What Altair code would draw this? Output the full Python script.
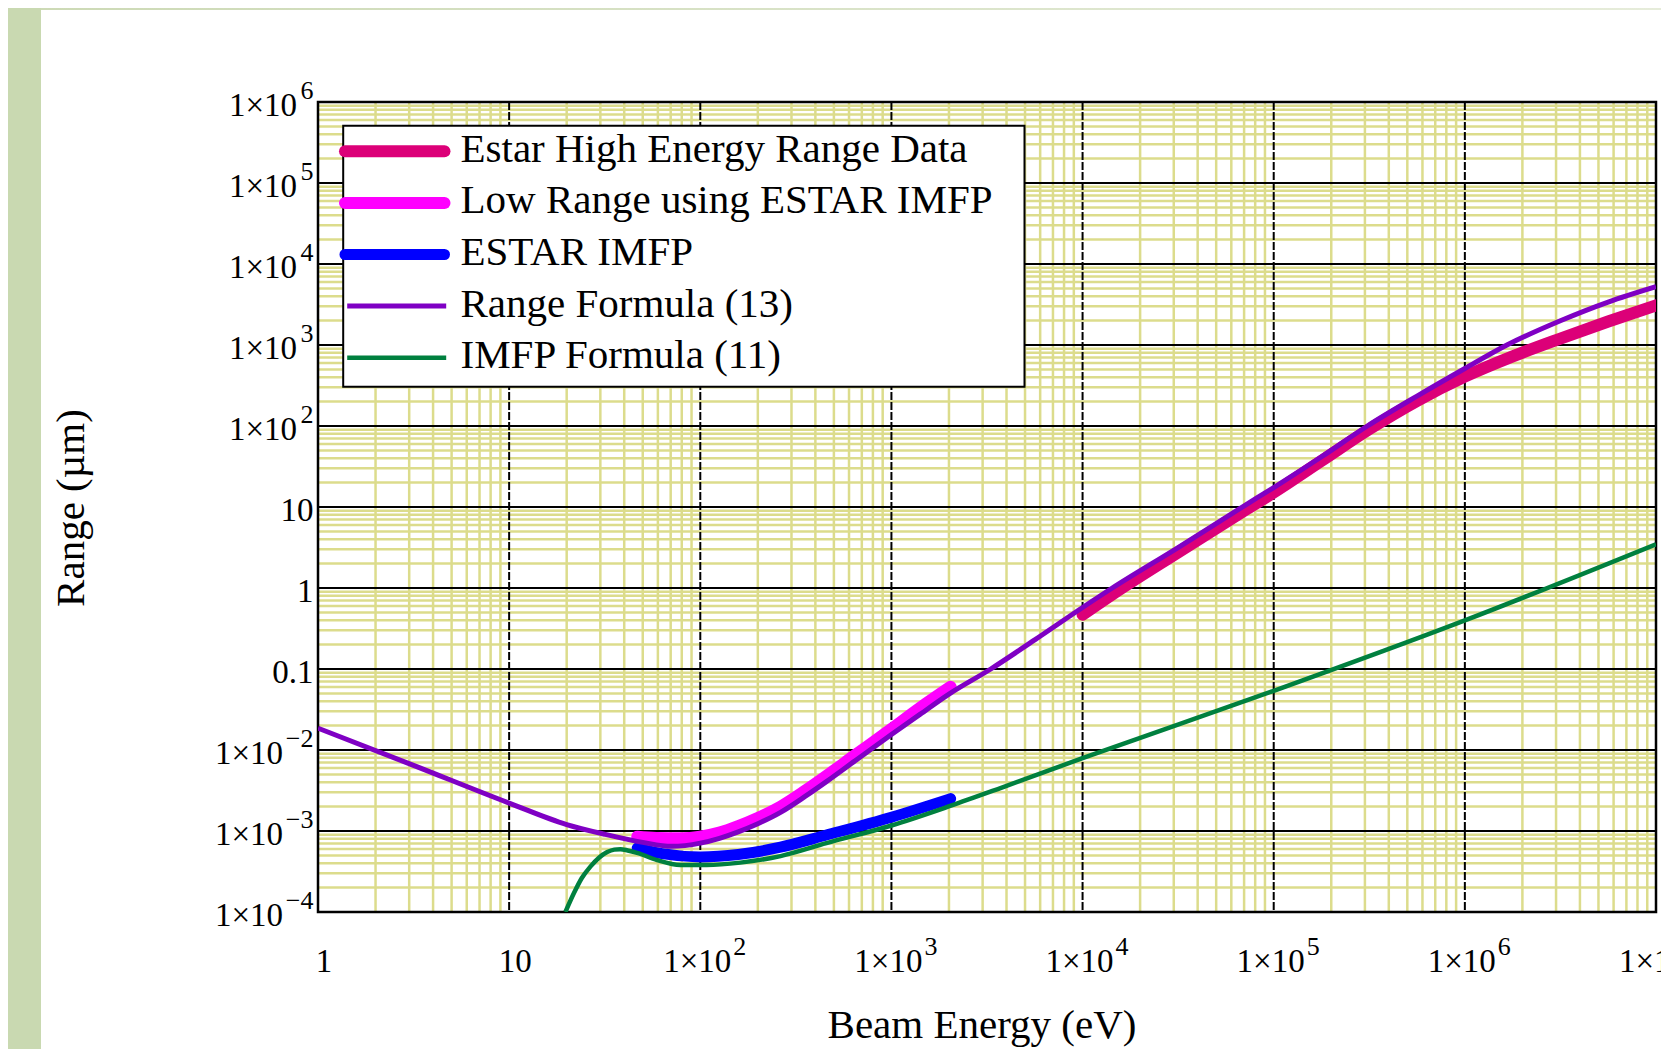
import altair as alt
import pandas as pd

# ---------------- data ----------------
x_decades = [1, 10, 100, 1e3, 1e4, 1e5, 1e6, 1e7]
x_tick_base = ["1", "10", "1×10", "1×10", "1×10", "1×10", "1×10", "1×10"]
x_tick_exp = ["", "", "2", "3", "4", "5", "6", "7"]

y_decades = [1e-4, 1e-3, 1e-2, 0.1, 1, 10, 1e2, 1e3, 1e4, 1e5, 1e6]
y_tick_base = ["1×10", "1×10", "1×10", "0.1", "1", "10", "1×10", "1×10", "1×10", "1×10", "1×10"]
y_tick_exp = ["−4", "−3", "−2", "", "", "", "2", "3", "4", "5", "6"]

minor_steps = [2, 3, 4, 5, 6, 7, 8, 9]

series_names = [
    "Estar High Energy Range Data",
    "Low Range using ESTAR IMFP",
    "ESTAR IMFP",
    "Range Formula (13)",
    "IMFP Formula (11)",
]

# Estar High Energy Range Data
estar_E = [1e4, 1.43e4, 3.16e4, 7.08e4, 1e5, 1.78e5, 3.16e5, 5.62e5, 1e6, 1.78e6, 3.16e6, 5.62e6, 1e7]
estar_R = [0.468, 0.832, 2.75, 9.12, 15.1, 37.2, 91.2, 204, 407, 724, 1202, 1950, 3090]

# Low Range using ESTAR IMFP
low_E = [46.8, 58.9, 79.4, 100, 126, 158, 200, 263, 355, 457, 631, 1000, 1410, 2040]
low_R = [0.000851, 0.000822, 0.000813, 0.000851, 0.000955, 0.00115, 0.00145, 0.00200,
         0.00316, 0.00479, 0.00832, 0.0182, 0.0331, 0.0603]

# ESTAR IMFP
imfp_E = [46.8, 63.1, 100, 158, 263, 457, 1000, 2040]
imfp_R = [0.000617, 0.000525, 0.000479, 0.000513, 0.000631, 0.000891, 0.00148, 0.00251]

# Range Formula (13)
rf_E = [1, 3.16, 10, 20, 31.6, 50, 70.8, 100, 126, 158, 200, 263, 355, 457, 631, 1000, 1410,
        2000, 3310, 5620, 1e4, 1.43e4, 3.16e4, 7.08e4, 1e5, 1.78e5, 3.09e5, 5.62e5, 1e6,
        1.66e6, 3.16e6, 5.62e6, 1e7]
rf_R = [0.0186, 0.00646, 0.00221, 0.00120, 0.000912, 0.000724, 0.000646, 0.000708, 0.000813,
        0.000977, 0.00123, 0.00170, 0.00269, 0.00407, 0.00708, 0.0155, 0.0275, 0.0490, 0.1,
        0.229, 0.575, 1.0, 3.16, 10.5, 17.4, 41.7, 100, 234, 513, 1000, 1995, 3390, 5250]

# IMFP Formula (11)
if_E = [19.7, 21.8, 24.0, 26.6, 29.5, 32.6, 35.5, 38.2, 41.7, 46.7, 59.4, 78.7, 108, 162, 263,
        457, 1000, 2030, 3720, 1e4, 1e5, 1e6, 1e7]
if_R = [1.0e-4, 1.70e-4, 2.63e-4, 3.63e-4, 4.68e-4, 5.50e-4, 5.89e-4, 5.96e-4, 5.75e-4, 5.37e-4,
        4.37e-4, 3.80e-4, 3.80e-4, 4.07e-4, 4.90e-4, 7.08e-4, 1.17e-3, 2.04e-3, 3.39e-3, 7.94e-3,
        0.0537, 0.398, 3.47]

# ---------------- styles ----------------
series_colors = ["#dc0078", "#ff00ff", "#0000ff", "#7f00c4", "#00803f"]
series_widths = [12, 12, 11, 5, 4.5]
FONT = "Liberation Serif"
YEL = "#dcdc8c"
W, H = 1338, 810

xs = alt.Scale(type="log", domain=[1, 1e7], nice=False)
ys = alt.Scale(type="log", domain=[1e-4, 1e6], nice=False)

one = pd.DataFrame({"k": [0]})


def xenc(f):
    return alt.X(f + ":Q", scale=xs, axis=None)


def yenc(f):
    return alt.Y(f + ":Q", scale=ys, axis=None)


layers = []

# page decoration (green strips)
layers.append(alt.Chart(one).mark_rect(color="#c9d9b1").encode(
    x=alt.value(-310), x2=alt.value(-277), y=alt.value(-94), y2=alt.value(H + 140)))
layers.append(alt.Chart(one).mark_rect(
    color=alt.Gradient(gradient="linear",
                       stops=[alt.GradientStop(color="#cddab6", offset=0),
                              alt.GradientStop(color="#e6ecda", offset=1)],
                       x1=0, x2=1, y1=0, y2=0)).encode(
    x=alt.value(-277), x2=alt.value(W + 5), y=alt.value(-94), y2=alt.value(-92)))

# plot background
layers.append(alt.Chart(one).mark_rect(color="white").encode(
    x=alt.value(0), x2=alt.value(W), y=alt.value(0), y2=alt.value(H)))

# minor grid
x_minor = pd.DataFrame({"v": [m * d for d in x_decades[:-1] for m in minor_steps]})
y_minor = pd.DataFrame({"v": [m * d for d in y_decades[:-1] for m in minor_steps]})
layers.append(alt.Chart(x_minor).mark_rule(color=YEL, strokeWidth=2.5).encode(x=xenc("v")))
layers.append(alt.Chart(y_minor).mark_rule(color=YEL, strokeWidth=2.5).encode(y=yenc("v")))

# major grid
x_major = pd.DataFrame({"v": x_decades[1:-1]})
y_major = pd.DataFrame({"v": y_decades[1:-1]})
layers.append(alt.Chart(x_major).mark_rule(color="black", strokeWidth=2, strokeDash=[8, 2]).encode(x=xenc("v")))
layers.append(alt.Chart(y_major).mark_rule(color="black", strokeWidth=2).encode(y=yenc("v")))

# frame
layers.append(alt.Chart(one).mark_rect(filled=False, stroke="black", strokeWidth=2.5).encode(
    x=alt.value(0), x2=alt.value(W), y=alt.value(0), y2=alt.value(H)))

# curves
curve_data = [(estar_E, estar_R), (low_E, low_R), (imfp_E, imfp_R), (rf_E, rf_R), (if_E, if_R)]
for (E, R), name, col, sw in zip(curve_data, series_names, series_colors, series_widths):
    df = pd.DataFrame({"E": E, "R": R, "series": name})
    layers.append(alt.Chart(df).mark_line(
        color=col, strokeWidth=sw, clip=True, interpolate="monotone",
        strokeCap="round" if sw > 8 else "butt", strokeJoin="round").encode(
        x=xenc("E"), y=yenc("R")))

# legend
layers.append(alt.Chart(one).mark_rect(fill="white", stroke="black", strokeWidth=2).encode(
    x=alt.value(25.2), x2=alt.value(706.5), y=alt.value(23.7), y2=alt.value(284.7)))
for i, (name, col, sw) in enumerate(zip(series_names, series_colors, series_widths)):
    yy = 49.3 + i * 51.6
    thick = sw > 8
    lab = pd.DataFrame({"label": [name]})
    layers.append(alt.Chart(lab).mark_rule(
        color=col, strokeWidth=sw, strokeCap="round" if thick else "butt").encode(
        x=alt.value(27 if thick else 29.2), x2=alt.value(126.5 if thick else 128.2),
        y=alt.value(yy)))
    layers.append(alt.Chart(lab).mark_text(
        font=FONT, fontSize=41, align="left", baseline="alphabetic", color="black").encode(
        x=alt.value(142.5), y=alt.value(yy + 10.5), text="label:N"))

# x tick labels
xt = pd.DataFrame({"v": x_decades, "base": x_tick_base, "exp": x_tick_exp})
layers.append(alt.Chart(xt).transform_filter("datum.exp == ''").mark_text(
    font=FONT, fontSize=33, align="center", baseline="alphabetic", dx=6, color="black").encode(
    x=xenc("v"), y=alt.value(H + 60), text="base:N"))
layers.append(alt.Chart(xt).transform_filter("datum.exp != ''").mark_text(
    font=FONT, fontSize=33, align="right", baseline="alphabetic", dx=31, color="black").encode(
    x=xenc("v"), y=alt.value(H + 60), text="base:N"))
layers.append(alt.Chart(xt).transform_filter("datum.exp != ''").mark_text(
    font=FONT, fontSize=26, align="left", baseline="alphabetic", dx=33, color="black").encode(
    x=xenc("v"), y=alt.value(H + 43), text="exp:N"))

# y tick labels
yt = pd.DataFrame({"v": y_decades, "base": y_tick_base, "exp": y_tick_exp})
layers.append(alt.Chart(yt).transform_filter("datum.exp == ''").mark_text(
    font=FONT, fontSize=33, align="right", baseline="alphabetic", dy=13.5, color="black").encode(
    x=alt.value(-4.5), y=yenc("v"), text="base:N"))
layers.append(alt.Chart(yt).transform_filter("datum.exp != '' && indexof(datum.exp, '−') < 0").mark_text(
    font=FONT, fontSize=33, align="right", baseline="alphabetic", dy=13.5, color="black").encode(
    x=alt.value(-21), y=yenc("v"), text="base:N"))
layers.append(alt.Chart(yt).transform_filter("indexof(datum.exp, '−') >= 0").mark_text(
    font=FONT, fontSize=33, align="right", baseline="alphabetic", dy=13.5, color="black").encode(
    x=alt.value(-35), y=yenc("v"), text="base:N"))
layers.append(alt.Chart(yt).transform_filter("datum.exp != ''").mark_text(
    font=FONT, fontSize=26, align="right", baseline="alphabetic", dy=-3, color="black").encode(
    x=alt.value(-4.5), y=yenc("v"), text="exp:N"))

# axis titles
titles = pd.DataFrame({"t": ["Beam Energy (eV)"]})
layers.append(alt.Chart(titles).mark_text(
    font=FONT, fontSize=41, align="center", baseline="alphabetic", color="black").encode(
    x=alt.value(W / 2 - 5), y=alt.value(H + 126), text="t:N"))
ytitle = pd.DataFrame({"t": ["Range (µm)"]})
layers.append(alt.Chart(ytitle).mark_text(
    font=FONT, fontSize=41, align="center", baseline="middle", angle=270, color="black").encode(
    x=alt.value(-246), y=alt.value(H / 2 + 1), text="t:N"))

chart = alt.layer(*layers).properties(
    width=W, height=H,
    padding={"left": 310, "top": 94, "right": 5, "bottom": 137},
    autosize=alt.AutoSizeParams(type="none"),
    background="white",
).configure_view(strokeWidth=0)

chart.save("out.html", embed_options={"renderer": "svg", "actions": False})
